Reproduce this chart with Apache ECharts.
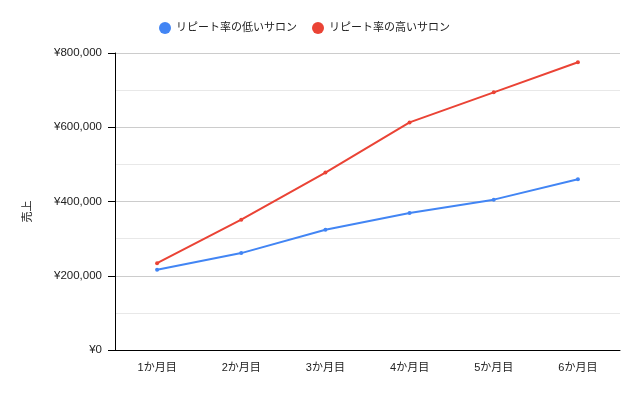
<!DOCTYPE html>
<html><head><meta charset="utf-8">
<script src="https://cdn.jsdelivr.net/npm/echarts@6/dist/echarts.min.js"></script>
<style>html,body{margin:0;padding:0;background:#fff}#c{width:640px;height:396px}</style>
</head><body><div id="c"></div>
<script>
const categories = ['1か月目','2か月目','3か月目','4か月目','5か月目','6か月目'];
const lowRepeat = [216000, 261000, 324000, 369000, 405000, 460000];
const highRepeat = [234000, 351000, 478000, 613000, 694000, 775000];
const seriesNames = ['リピート率の低いサロン','リピート率の高いサロン'];
const yTicks = {min: 0, max: 800000, interval: 200000};

const font = "'Liberation Sans', Arial, 'Noto Sans CJK JP', sans-serif";
const chart = echarts.init(document.getElementById('c'));
chart.setOption({
  animation: false,
  textStyle: {fontFamily: font},
  legend: {
    top: 17, left: 154, itemGap: 15,
    icon: 'circle', itemWidth: 12, itemHeight: 12,
    textStyle: {fontSize: 11, color: '#222', fontFamily: font},
    data: seriesNames
  },
  grid: {left: 115, right: 20, top: 53, bottom: 46},
  xAxis: {
    type: 'category', data: categories, boundaryGap: true,
    axisLine: {lineStyle: {color: '#000', width: 1}},
    axisTick: {alignWithLabel: true, length: 6, lineStyle: {color: '#000'}},
    axisLabel: {fontSize: 11, color: '#222', margin: 12, fontFamily: font}
  },
  yAxis: {
    type: 'value', min: yTicks.min, max: yTicks.max, interval: yTicks.interval,
    name: '売上', nameLocation: 'middle', nameGap: 82, nameRotate: 90,
    nameTextStyle: {fontSize: 11, color: '#222', fontFamily: font, padding: [0, 20, 0, 0]},
    axisLine: {show: true, lineStyle: {color: '#000', width: 1}},
    axisTick: {show: true, length: 7, lineStyle: {color: '#000'}},
    axisLabel: {fontSize: 11.5, color: '#222', margin: 13, fontFamily: font,
      formatter: v => '¥' + v.toLocaleString('en-US')},
    splitLine: {lineStyle: {color: '#cccccc'}},
    minorTick: {show: false, splitNumber: 2},
    minorSplitLine: {show: true, lineStyle: {color: '#e8e8e8'}}
  },
  series: [
    {name: seriesNames[0], type: 'line', data: lowRepeat, color: '#4285F4',
     symbol: 'circle', symbolSize: 4, lineStyle: {width: 2}},
    {name: seriesNames[1], type: 'line', data: highRepeat, color: '#EA4335',
     symbol: 'circle', symbolSize: 4, lineStyle: {width: 2}}
  ]
});
</script></body></html>
